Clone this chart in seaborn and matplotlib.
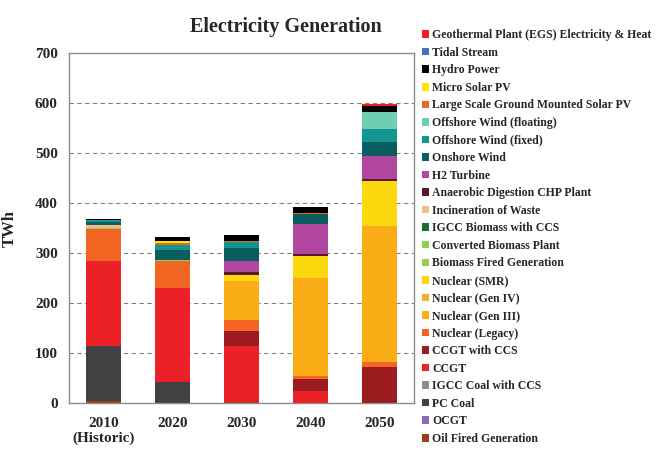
import numpy as np
import pandas as pd
import seaborn as sns
import matplotlib.pyplot as plt
from matplotlib.patches import Patch

# categories (x axis)
years = ["2010\n(Historic)", "2020", "2030", "2040", "2050"]

# generation sources, in legend order (top of legend = top of stack)
sources = [
    "Geothermal Plant (EGS) Electricity & Heat",
    "Tidal Stream",
    "Hydro Power",
    "Micro Solar PV",
    "Large Scale Ground Mounted Solar PV",
    "Offshore Wind (floating)",
    "Offshore Wind (fixed)",
    "Onshore Wind",
    "H2 Turbine",
    "Anaerobic Digestion CHP Plant",
    "Incineration of Waste",
    "IGCC Biomass with CCS",
    "Converted Biomass Plant",
    "Biomass Fired Generation",
    "Nuclear (SMR)",
    "Nuclear (Gen IV)",
    "Nuclear (Gen III)",
    "Nuclear (Legacy)",
    "CCGT with CCS",
    "CCGT",
    "IGCC Coal with CCS",
    "PC Coal",
    "OCGT",
    "Oil Fired Generation",
]

colors = [
    "#ee1c25", "#4a6fc0", "#000000", "#ffe600", "#e2692a", "#6fcdb4",
    "#13968f", "#0b5e60", "#b2479f", "#5b1730", "#f6bd8c", "#1c6e32",
    "#8fd14f", "#9cc95a", "#fcd90f", "#f0b429", "#fbad18", "#f26522",
    "#9b1b1f", "#ec2127", "#8c8c8c", "#414141", "#8b6bb5", "#9a3d16",
]

# TWh per year, one list per source (same order as years)
geothermal    = [0, 0, 0, 0, 3]
tidal         = [0, 0, 0, 0, 0]
hydro         = [2, 9, 12, 12, 12]
micro_solar   = [0, 3, 1, 1, 0]
large_solar   = [0, 4, 2, 2, 0]
offshore_flt  = [0, 0, 0, 0, 34]
offshore_fix  = [3, 10, 12, 0, 26]
onshore       = [7, 20, 26, 20, 28]
h2_turbine    = [0, 0, 22, 60, 46]
anaerobic     = [0, 0, 5, 3, 4]
incineration  = [5, 0, 0, 0, 0]
igcc_biomass  = [0, 0, 0, 0, 0]
conv_biomass  = [0, 2, 0, 0, 0]
biomass_fired = [3, 0, 0, 0, 0]
nuc_smr       = [0, 0, 12, 45, 90]
nuc_gen4      = [0, 0, 0, 0, 0]
nuc_gen3      = [0, 0, 78, 195, 273]
nuc_legacy    = [63, 54, 22, 7, 9]
ccgt_ccs      = [0, 0, 30, 24, 73]
ccgt          = [170, 189, 112, 24, 0]
igcc_coal     = [0, 0, 0, 0, 0]
pc_coal       = [110, 42, 0, 0, 0]
ocgt          = [0, 0, 0, 0, 0]
oil           = [5, 0, 3, 0, 0]

series = [geothermal, tidal, hydro, micro_solar, large_solar, offshore_flt,
          offshore_fix, onshore, h2_turbine, anaerobic, incineration,
          igcc_biomass, conv_biomass, biomass_fired, nuc_smr, nuc_gen4,
          nuc_gen3, nuc_legacy, ccgt_ccs, ccgt, igcc_coal, pc_coal, ocgt, oil]

rows = []
for name, vals in zip(sources, series):
    for i, v in enumerate(vals):
        rows.append({"pos": i, "source": name, "TWh": v})
df = pd.DataFrame(rows)

sns.set_style("white")
plt.rcParams["font.family"] = ["Liberation Serif", "DejaVu Serif"]
plt.rcParams["font.weight"] = "bold"

fig = plt.figure(figsize=(6.57, 4.5), dpi=100)
ax = fig.add_axes([0.105, 0.104, 0.525, 0.778])

# histplot stacks the last hue level at the bottom
sns.histplot(data=df, x="pos", weights="TWh", hue="source", hue_order=sources,
             palette=dict(zip(sources, colors)), multiple="stack", discrete=True,
             shrink=0.5, alpha=1, linewidth=0, legend=False, ax=ax)

ax.set_xlim(-0.5, 4.5)
ax.set_ylim(0, 700)
ax.set_yticks(range(0, 701, 100))
ax.set_xticks(range(len(years)))
ax.set_xticklabels(years, fontsize=11, fontweight="bold", linespacing=1.1)
ax.set_xticks(np.arange(-0.5, 5, 1), minor=True)
ax.tick_params(axis="x", which="major", length=0, pad=10)
ax.tick_params(axis="x", which="minor", length=4, color="#888888")
ax.tick_params(axis="y", length=5, color="#888888", labelsize=11, pad=3)
for lab in ax.get_yticklabels():
    lab.set_fontweight("bold")
ax.set_xlabel("")
ax.set_ylabel("TWh", fontsize=12, fontweight="bold", labelpad=12)
fig.text(0.435, 0.94, "Electricity Generation", fontsize=14.5,
         fontweight="bold", ha="center", va="center")

ax.set_axisbelow(True)
for y in range(100, 700, 100):
    ax.axhline(y, color="#808080", lw=0.8, ls=(0, (4, 3)), zorder=0)
for sp in ax.spines.values():
    sp.set_color("#8c8c8c")
    sp.set_linewidth(1)

handles = [Patch(facecolor=c, edgecolor="none") for c in colors]
fig.legend(handles, sources, loc="upper left", bbox_to_anchor=(0.633, 0.948),
           frameon=False, borderpad=0, labelspacing=0.47,
           handlelength=0.6, handleheight=0.6, handletextpad=0.3,
           prop={"weight": "bold", "size": 8.5})

fig.savefig("out.png", dpi=100)
